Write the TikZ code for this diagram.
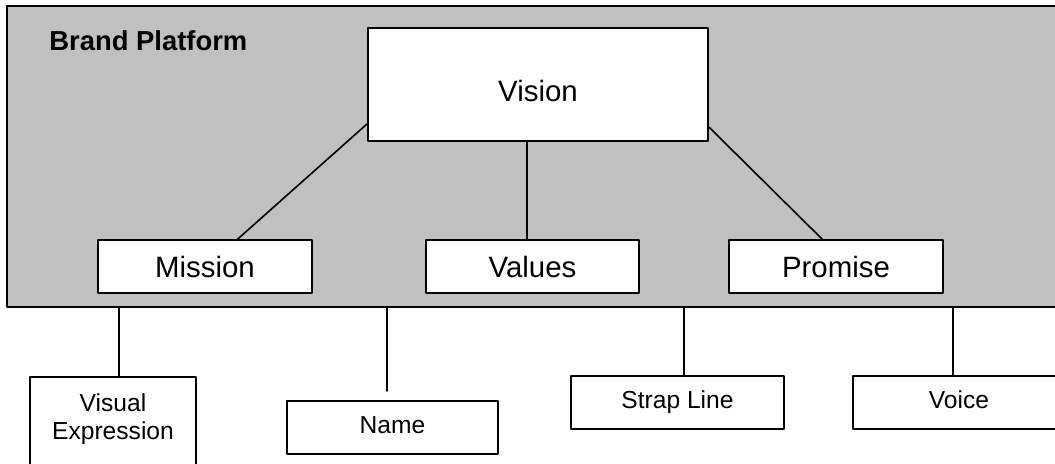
\documentclass[tikz,border=0pt]{standalone}
\usepackage{fontspec}
\setmainfont{Liberation Sans}
\definecolor{panelgray}{RGB}{192,192,192}

\begin{document}
\begin{tikzpicture}[line cap=round,line join=round,x=0.5pt,y=-0.5pt,
	box/.style={draw,fill=white,line width=1pt,inner sep=0pt,rectangle},
	topbox/.style={box,minimum height=26.5pt,font=\fontsize{14.7}{17}\selectfont},
	lowbox/.style={box,minimum height=26.5pt,text height=8.9pt,text depth=2.6pt,font=\fontsize{12.3}{14}\selectfont},
	link/.style={line width=0.8pt}]
		\useasboundingbox (0,0) rectangle (1055,463);
		\clip (0,0) rectangle (1055,463);
		% grey panel
		\node[draw,fill=panelgray,line width=1.2pt,inner sep=0pt,minimum width=531.5pt,minimum height=150.5pt] (platform) at (538.5,156.5) {};
		\node[anchor=base west,inner sep=0pt,font=\bfseries\fontsize{13.7}{16}\selectfont] (title) at (49,50) {Brand Platform};
		% boxes inside the panel
		\node[box,font=\fontsize{14.7}{17}\selectfont,minimum width=170pt,minimum height=56.5pt,text height=17pt,text depth=0pt] (vision) at (538,84.5) {Vision};
		\node[topbox,minimum width=107pt] (mission) at (205,266.5) {Mission};
		\node[topbox,minimum width=106.5pt] (values) at (532.5,266.5) {Values};
		\node[topbox,minimum width=107pt] (promise) at (836,266.5) {Promise};
		% boxes below
		\node[box,anchor=north,text width=83pt,align=center,text height=17pt,text depth=60pt,font=\fontsize{12.3}{14}\selectfont] (visual) at (113,376) {Visual\\Expression};
		\node[lowbox,minimum width=105.5pt] (name) at (392.5,427.5) {Name};
		\node[lowbox,minimum width=106.5pt] (strap) at (677.5,402.5) {Strap Line};
		\node[lowbox,minimum width=106pt] (voice) at (959,402.5) {Voice};
		% connectors
		\draw[link] (vision.193.7) -- (mission.40.5);
		\draw[link] ([xshift=-5.5pt]vision.south) -- ([xshift=-5.5pt]vision.south |- values.north);
		\draw[link] (vision.346.3) -- (promise.117.8);
		\draw[link] ([xshift=3pt]visual.north) -- ([xshift=3pt]visual.north |- platform.south);
		\coordinate (nameend) at ([shift={(-2.75pt,4.5pt)}]name.north);
		\draw[link] (nameend) -- (nameend |- platform.south);
		\draw[link] ([xshift=3.25pt]strap.north) -- ([xshift=3.25pt]strap.north |- platform.south);
		\draw[link] ([xshift=-3pt]voice.north) -- ([xshift=-3pt]voice.north |- platform.south);
\end{tikzpicture}
\end{document}
